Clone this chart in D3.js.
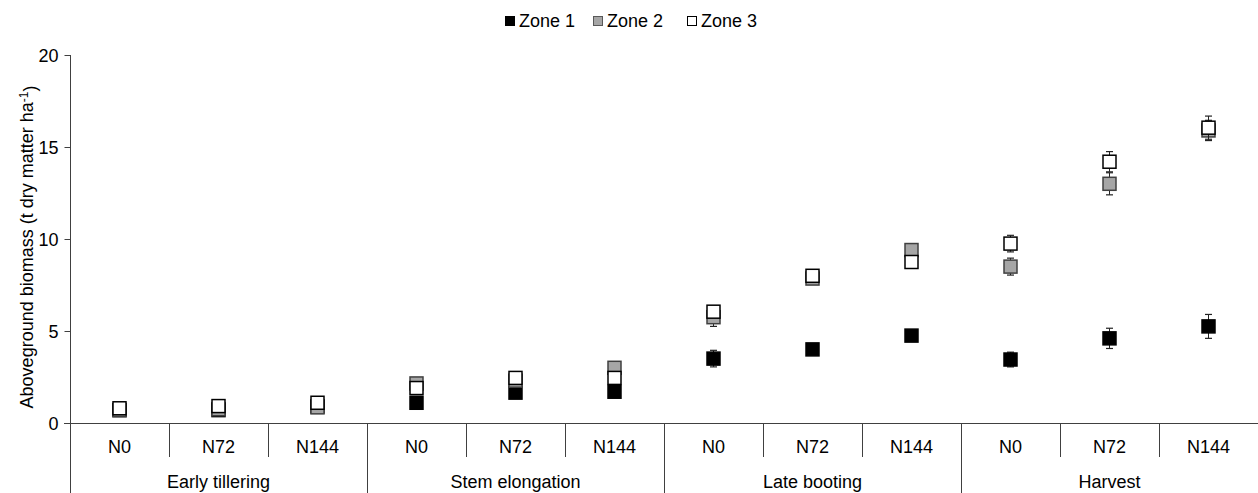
<!DOCTYPE html>
<html>
<head>
<meta charset="utf-8">
<script src="https://cdn.jsdelivr.net/npm/d3@7"></script>
<style>
  body { margin: 0; background: #fff; }
  text { font-family: "Liberation Sans", Arial, sans-serif; fill: #000; }
</style>
</head>
<body>
<svg id="chart"></svg>
<script>
// categories
let stages = ["Early tillering", "Stem elongation", "Late booting", "Harvest"];
let rates = ["N0", "N72", "N144"];
let zones = ["Zone 1", "Zone 2", "Zone 3"];
let yTicks = [0, 5, 10, 15, 20];

// mean biomass (t dry matter / ha), per stage x rate
let zone1 = [0.7, 0.7, 0.9, 1.1, 1.65, 1.7, 3.5, 4.0, 4.75, 3.45, 4.6, 5.25];
let zone2 = [0.7, 0.75, 0.85, 2.15, 2.3, 3.0, 5.75, 7.85, 9.4, 8.5, 13.0, 15.9];
let zone3 = [0.8, 0.92, 1.1, 1.9, 2.45, 2.45, 6.05, 8.0, 8.75, 9.75, 14.2, 16.05];

// error bars (0 = none drawn)
let zone1Err = [0, 0, 0, 0, 0, 0, 0.45, 0, 0, 0.4, 0.55, 0.65];
let zone2Err = [0, 0, 0, 0, 0, 0, 0.5, 0, 0, 0.46, 0.6, 0.55];
let zone3Err = [0, 0, 0, 0, 0, 0, 0, 0, 0, 0.45, 0.55, 0.63];

// sizes
let widthSVG = 1258;
let heightSVG = 493;
let margins = { top: 55, left: 70, right: 0, bottom: 70 };
let width = widthSVG - margins.left - margins.right;
let height = 423 - margins.top;
let fontSize = '18px';

let SVG = d3.select('svg#chart')
            .attr('width', widthSVG)
            .attr('height', heightSVG);

// build the category keys
let cats = [];
stages.forEach(s => rates.forEach(r => cats.push(s + '|' + r)));

let x = d3.scaleBand().domain(cats).range([margins.left, margins.left + width]);
let xStage = d3.scaleBand().domain(stages).range([margins.left, margins.left + width]);
let y = d3.scaleLinear().domain([0, 20]).range([margins.top + height, margins.top]);

let axisColor = '#404040';

// y axis
let yAxis = d3.axisLeft(y).tickValues(yTicks).tickSize(6).tickPadding(6);
let yG = SVG.append('g')
  .attr('transform', `translate(${margins.left + 0.5}, 0)`)
  .call(yAxis);
yG.select('.domain').remove();
yG.selectAll('.tick line').attr('stroke', axisColor);
yG.selectAll('.tick text').style('font-size', fontSize).style('font-family', '"Liberation Sans", Arial, sans-serif').attr('dy', '0.35em');

// vertical y axis line, running down through the category area
SVG.append('line')
  .attr('x1', margins.left + 0.5).attr('x2', margins.left + 0.5)
  .attr('y1', y(20)).attr('y2', heightSVG)
  .attr('stroke', axisColor);

// x axis line
SVG.append('line')
  .attr('x1', margins.left - 6).attr('x2', widthSVG)
  .attr('y1', y(0) + 0.5).attr('y2', y(0) + 0.5)
  .attr('stroke', axisColor);

// sub-category dividers and labels
let subG = SVG.append('g');
cats.forEach((c, i) => {
  let x0 = x(c);
  if (i % 3 !== 0) {
    subG.append('line')
      .attr('x1', Math.round(x0) + 0.5).attr('x2', Math.round(x0) + 0.5)
      .attr('y1', y(0)).attr('y2', y(0) + 34)
      .attr('stroke', axisColor);
  }
  subG.append('text')
    .attr('x', x0 + x.bandwidth() / 2)
    .attr('y', 453)
    .attr('text-anchor', 'middle')
    .style('font-size', fontSize)
    .text(c.split('|')[1]);
});

// stage dividers and labels
stages.forEach((s, i) => {
  if (i > 0) {
    SVG.append('line')
      .attr('x1', Math.round(xStage(s)) + 0.5).attr('x2', Math.round(xStage(s)) + 0.5)
      .attr('y1', y(0)).attr('y2', heightSVG)
      .attr('stroke', axisColor);
  }
  SVG.append('text')
    .attr('x', xStage(s) + xStage.bandwidth() / 2)
    .attr('y', 488)
    .attr('text-anchor', 'middle')
    .style('font-size', fontSize)
    .text(s);
});

// y axis title
let yTitle = SVG.append('text')
  .attr('transform', `translate(33, ${(y(0) + y(20)) / 2 + 8}) rotate(-90)`)
  .attr('text-anchor', 'middle')
  .style('font-size', fontSize);
yTitle.append('tspan').text('Aboveground biomass (t dry matter ha');
yTitle.append('tspan').attr('dy', '-0.45em').style('font-size', '12px').text('-1');
yTitle.append('tspan').attr('dy', '0.45em').text(')');

// series styles
let series = [
  { name: zones[0], vals: zone1, errs: zone1Err, fill: '#000000', stroke: '#000000' },
  { name: zones[1], vals: zone2, errs: zone2Err, fill: '#a6a6a6', stroke: '#404040' },
  { name: zones[2], vals: zone3, errs: zone3Err, fill: '#ffffff', stroke: '#000000' }
];

let markSize = 13;
let capW = 7;

series.forEach(ser => {
  let g = SVG.append('g').attr('class', 'series');
  cats.forEach((c, i) => {
    let cx = x(c) + x.bandwidth() / 2;
    let v = ser.vals[i];
    let e = ser.errs[i];
    if (e > 0) {
      g.append('line')
        .attr('x1', cx).attr('x2', cx)
        .attr('y1', y(v + e)).attr('y2', y(v - e))
        .attr('stroke', '#222').attr('stroke-width', 1);
      [v + e, v - e].forEach(t => {
        g.append('line')
          .attr('x1', cx - capW / 2).attr('x2', cx + capW / 2)
          .attr('y1', y(t)).attr('y2', y(t))
          .attr('stroke', '#222').attr('stroke-width', 1.2);
      });
    }
    g.append('rect')
      .attr('x', cx - markSize / 2)
      .attr('y', y(v) - markSize / 2)
      .attr('width', markSize)
      .attr('height', markSize)
      .attr('fill', ser.fill)
      .attr('stroke', ser.stroke)
      .attr('stroke-width', 1.5);
  });
});

// legend
let legendX = [505, 593, 687];
let legend = SVG.append('g').attr('class', 'legend');
series.forEach((ser, i) => {
  legend.append('rect')
    .attr('x', legendX[i] + 0.5).attr('y', 16.5)
    .attr('width', 9).attr('height', 9)
    .attr('fill', ser.fill)
    .attr('stroke', ser.stroke === '#404040' ? '#595959' : '#000');
  legend.append('text')
    .attr('x', legendX[i] + 14)
    .attr('y', 27)
    .style('font-size', fontSize)
    .text(ser.name);
});
</script>
</body>
</html>
